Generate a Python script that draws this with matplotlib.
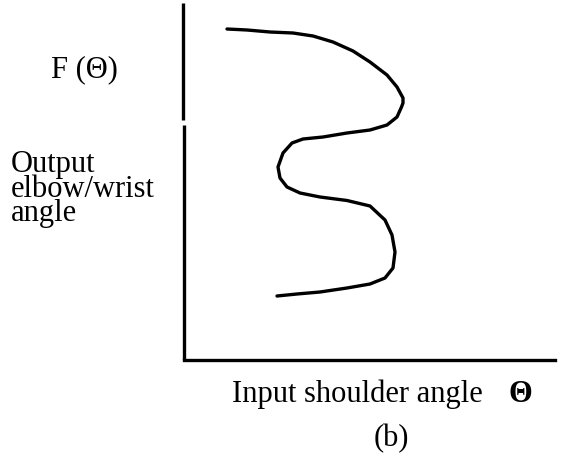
import matplotlib
matplotlib.use("Agg")
import matplotlib.pyplot as plt

# Curve (arbitrary units: input shoulder angle vs output elbow/wrist angle)
theta = [43, 63, 86, 109, 129, 149, 169, 186, 203, 213, 219, 219, 217.5, 213, 203, 186,
         163, 139, 119, 108, 99, 94, 96, 103, 116, 136, 163, 186, 201, 208, 211, 209,
         201, 186, 163, 136, 113, 93]
f_theta = [331, 330, 328, 327, 324, 318, 309, 298, 285, 273, 262, 257, 253, 243, 235, 230,
           227, 223, 221, 217, 207, 193, 182, 173, 167, 163, 159.5, 154, 140, 125, 108, 92,
           82, 76, 72, 68, 66, 64]

x_label = "Input shoulder angle"
x_symbol = "\u0398"
y_label_top = "F (\u0398)"
y_label_lines = ["Output", "elbow/wrist", "angle"]
caption = "(b)"

W, H = 561, 466
fig = plt.figure(figsize=(W / 100, H / 100), dpi=100)
fig.patch.set_facecolor("white")

left_px, right_px, top_px, bottom_px = 184, 555, 3, 360
ax = fig.add_axes([left_px / W, 1 - bottom_px / H,
                   (right_px - left_px) / W, (bottom_px - top_px) / H])
ax.set_xlim(0, right_px - left_px)
ax.set_ylim(0, bottom_px - top_px)
ax.set_facecolor("none")
for s in ("top", "right", "left"):
    ax.spines[s].set_visible(False)
ax.spines["bottom"].set_linewidth(2.4)
ax.spines["bottom"].set_color("black")
ax.set_xticks([])
ax.set_yticks([])

# left axis line with small gap
ax.plot([0, 0], [0, 0.658], transform=ax.transAxes, color="black", lw=2.4,
        solid_capstyle="butt", clip_on=False)
ax.plot([-0.002, -0.002], [0.672, 1.0], transform=ax.transAxes, color="black", lw=2.4,
        solid_capstyle="butt", clip_on=False)

ax.plot(theta, f_theta, color="black", lw=2.4, solid_capstyle="round",
        solid_joinstyle="round")

font = dict(family="Liberation Serif", color="black")
fs = 22

def ftext(x, y, s, **kw):
    fig.text(x / W, 1 - y / H, s, **font, **kw)

ftext(51, 77, y_label_top, fontsize=fs, ha="left", va="baseline")
ftext(11, 150, "\n".join(y_label_lines), fontsize=fs, ha="left", va="top",
      linespacing=0.8)
ftext(232, 402, x_label, fontsize=fs, ha="left", va="baseline")
ftext(520, 402, x_symbol, fontsize=fs, ha="center", va="baseline", fontweight="bold")
ftext(391, 446, caption, fontsize=fs, ha="center", va="baseline")

fig.savefig("out.png", dpi=100, facecolor="white")
